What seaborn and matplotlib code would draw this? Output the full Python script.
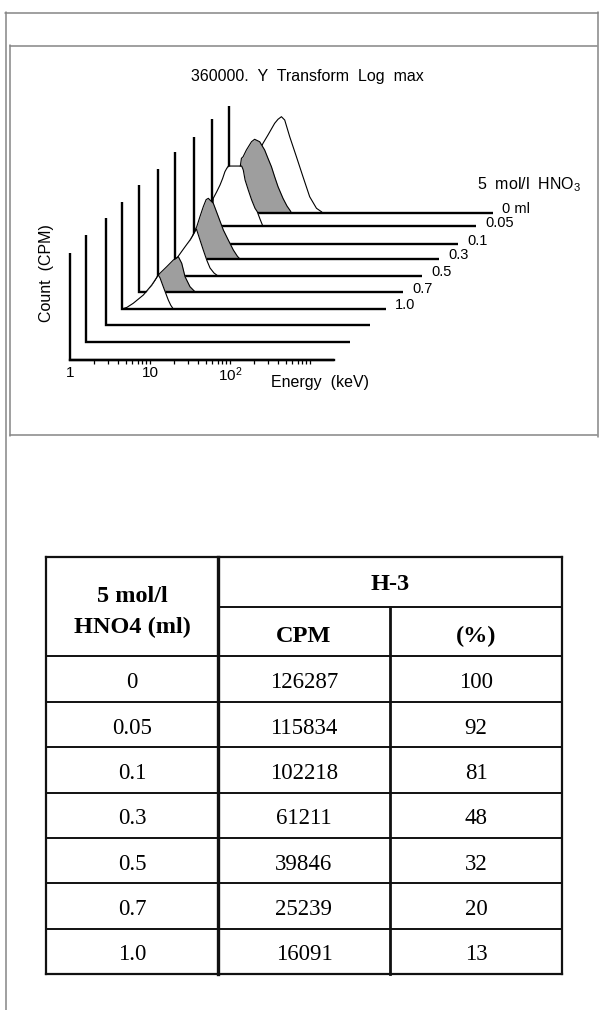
import numpy as np
import matplotlib
matplotlib.use("Agg")
import matplotlib.pyplot as plt
import seaborn as sns
from matplotlib.lines import Line2D
from matplotlib.ticker import FixedLocator, NullFormatter

# ---------------- data ----------------
# waterfall row labels (back -> front), amount of 5 mol/l HNO3
row_labels = ["0 ml", "0.05", "0.1", "0.3", "0.5", "0.7", "1.0"]
label_rows = [9, 8, 7, 6, 5, 4, 3]

# spectra: energy (keV) and relative count (fraction of the log max)
e_0ml = [1.00, 1.26, 1.58, 2.00, 2.66, 3.07, 3.72, 4.10, 4.52, 4.97, 5.74, 6.96, 8.41, 10.2, 12.4, 14.3, 14.8]
c_0ml = [0.00, 0.05, 0.20, 0.45, 0.651, 0.729, 0.838, 0.876, 0.900, 0.869, 0.713, 0.526, 0.339, 0.152, 0.044, 0.012, 0.0]

e_005 = [1.00, 1.07, 1.20, 1.38, 1.43, 1.50, 1.65, 1.91, 2.09, 2.42, 2.79, 3.07, 3.39, 3.72, 4.10, 4.73, 5.31, 5.86, 6.03]
c_005 = [0.00, 0.08, 0.25, 0.43, 0.511, 0.526, 0.589, 0.666, 0.689, 0.666, 0.589, 0.511, 0.433, 0.339, 0.246, 0.137, 0.065, 0.019, 0.0]

e_01 = [1.00, 1.012, 1.038, 1.146, 1.26, 1.36, 1.45, 1.53, 1.60, 2.35, 2.46, 2.59, 2.84, 3.13, 3.45, 3.68, 3.98, 4.34]
c_01 = [0.00, 0.13, 0.264, 0.325, 0.388, 0.45, 0.512, 0.544, 0.565, 0.565, 0.528, 0.435, 0.341, 0.248, 0.17, 0.138, 0.07, 0.0]

e_03 = [1.05, 1.15, 1.32, 1.58, 1.78, 1.87, 2.05, 2.26, 2.45, 2.61, 2.75, 3.01, 3.48, 4.02, 4.63, 5.36, 6.03, 6.49]
c_03 = [0.0, 0.01, 0.06, 0.17, 0.271, 0.302, 0.396, 0.49, 0.555, 0.567, 0.55, 0.521, 0.396, 0.271, 0.178, 0.084, 0.025, 0.0]

e_05 = [1.00, 1.26, 1.51, 1.80, 2.11, 2.51, 2.82, 3.02, 3.35, 3.68, 4.06, 4.47, 5.01, 5.62]
c_05 = [0.0, 0.03, 0.10, 0.187, 0.259, 0.336, 0.40, 0.44, 0.336, 0.243, 0.15, 0.075, 0.028, 0.0]

e_07 = [1.26, 1.32, 1.51, 1.74, 2.22, 2.69, 3.10, 3.42, 3.76, 4.34, 5.01, 5.13]
c_07 = [0.0, 0.015, 0.075, 0.164, 0.241, 0.304, 0.335, 0.273, 0.148, 0.054, 0.007, 0.0]

e_10 = [1.00, 1.15, 1.38, 1.85, 2.35, 2.69, 2.84, 2.99, 3.28, 3.79, 4.07, 4.38]
c_10 = [0.0, 0.015, 0.053, 0.131, 0.224, 0.29, 0.318, 0.29, 0.208, 0.084, 0.035, 0.0]

# table
table_hno3 = ["0", "0.05", "0.1", "0.3", "0.5", "0.7", "1.0"]
table_cpm = [126287, 115834, 102218, 61211, 39846, 25239, 16091]
table_pct = [100, 92, 81, 48, 32, 20, 13]

E_MAX = 2000.0

# ---------------- layout / style ----------------
W, H, DPI = 601, 1010, 100
GRAY = "#9e9e9e"
# (energies, counts, waterfall row, fill colour), drawn back to front
spectra = [
    (e_0ml, c_0ml, 9, "white"),
    (e_005, c_005, 9, GRAY),
    (e_01, c_01, 8, "white"),
    (e_03, c_03, 6, GRAY),
    (e_05, c_05, 5, "white"),
    (e_07, c_07, 4, GRAY),
    (e_10, c_10, 3, "white"),
]
corner_px = [70, 86, 106, 122, 139, 158, 175, 194, 212, 229]
base_px = [360, 342, 325, 309, 292.5, 276, 259, 244.5, 226.5, 213]
X0, Y0, DEC, HT = 70, 360, 80.0, 107.0
row_shift = [10 ** ((c - X0) / DEC) for c in corner_px]
row_dy = [(Y0 - b) / HT for b in base_px]

sns.set_theme(style="white")
plt.rcParams["font.family"] = ["Liberation Sans", "DejaVu Sans"]
plt.rcParams["mathtext.fontset"] = "custom"
plt.rcParams["mathtext.rm"] = "Liberation Sans"
plt.rcParams["text.color"] = "black"
plt.rcParams["xtick.color"] = "black"
plt.rcParams["xtick.labelcolor"] = "black"

fig = plt.figure(figsize=(W / DPI, H / DPI), dpi=DPI)
fig.patch.set_facecolor("white")


def P(x, y):
    return x / W, 1 - y / H


# frames
fcol = "#858585"
for xs, ys in [([5.5, 5.5], [12, 1010]), ([5, 598], [12.5, 12.5]), ([598, 598], [12, 437]),
               ([10, 597], [45.5, 45.5]), ([10.5, 10.5], [45, 436]), ([10, 597], [435.5, 435.5])]:
    fig.add_artist(Line2D([x / W for x in xs], [1 - y / H for y in ys], color=fcol, lw=1.1,
                          transform=fig.transFigure))

# ---------------- waterfall ----------------
al, ar, at, ab = 30, 590, 95, 415
ax = fig.add_axes([al / W, 1 - ab / H, (ar - al) / W, (ab - at) / H])
ax.set_facecolor("none")
ax.set_xscale("log")
ax.set_xlim(10 ** ((al - X0) / DEC), 10 ** ((ar - X0) / DEC))
ax.set_ylim((Y0 - ab) / HT, (Y0 - at) / HT)

for r in range(9, -1, -1):
    z = 10 + (9 - r) * 10
    s, yo = row_shift[r], row_dy[r]
    k = 0
    for e, c, row, fc in spectra:
        if row != r:
            continue
        ex = np.asarray(e) * s
        cy = yo + np.asarray(c)
        ax.fill_between(ex, yo, cy, color=fc, lw=0, zorder=z + 1 + 2 * k)
        sns.lineplot(x=ex, y=cy, ax=ax, color="black", linewidth=0.8, sort=False,
                     estimator=None, zorder=z + 2 + 2 * k)
        k += 1
    ax.plot([s, s, s * E_MAX], [yo + 1.0, yo, yo], color="black", lw=1.7,
            solid_joinstyle="miter", solid_capstyle="butt", zorder=z + 8)

for lab, r in zip(row_labels, label_rows):
    ax.text(row_shift[r] * E_MAX * 10 ** (9 / DEC), row_dy[r] + 3.5 / HT, lab,
            ha="left", va="center", fontsize=10.5, color="black", zorder=200)

ax.set_xlabel("")
ax.set_ylabel("")
for sp in ["top", "right", "left"]:
    ax.spines[sp].set_visible(False)
ax.spines["bottom"].set_position(("data", 0))
ax.spines["bottom"].set_bounds(1, E_MAX)
ax.spines["bottom"].set_linewidth(1.7)
ax.spines["bottom"].set_color("black")
ax.set_yticks([])
ax.xaxis.set_major_locator(FixedLocator([1, 10, 100, 1000]))
ax.set_xticklabels(["1", "10", r"$\mathregular{10^2}$", ""])
ax.xaxis.set_minor_locator(FixedLocator([k * 10 ** d for d in range(3) for k in range(2, 10)]))
ax.xaxis.set_minor_formatter(NullFormatter())
ax.tick_params(axis="x", which="both", direction="out", length=3.0, width=0.9,
               color="black", labelsize=11, pad=1, labelcolor="black", bottom=True)
ax.xaxis.get_major_ticks()[0].tick1line.set_visible(False)

fig.text(*P(307.5, 76), "360000.  Y  Transform  Log  max", ha="center", va="center",
         fontsize=11.5, color="black")
fig.text(*P(320, 382), "Energy  (keV)", ha="center", va="center", fontsize=11.5, color="black")
fig.text(*P(47, 273), "Count  (CPM)", ha="center", va="center", fontsize=11.5, rotation=90,
         color="black")
fig.text(*P(477, 185), r"5  mol/l  HNO$\mathregular{_3}$", ha="left", va="center",
         fontsize=11.5, color="black")

# ---------------- table ----------------
tl, tr, tt, tb = 46, 562, 556.7, 974
tab = fig.add_axes([tl / W, 1 - tb / H, (tr - tl) / W, (tb - tt) / H])
tab.axis("off")
HDR = 2.2
NR = len(table_hno3)
tab.set_xlim(0, 3)
tab.set_ylim(HDR + NR, 0)
lc = "#111111"
kw = dict(color=lc, clip_on=False, solid_capstyle="projecting")
tab.plot([0, 3], [0, 0], lw=1.6, **kw)
tab.plot([0, 3], [HDR + NR, HDR + NR], lw=1.6, **kw)
tab.plot([0, 0], [0, HDR + NR], lw=1.6, **kw)
tab.plot([3, 3], [0, HDR + NR], lw=1.6, **kw)
tab.plot([1, 1], [0, HDR + NR], lw=2.4, **kw)
tab.plot([2, 2], [HDR / 2, HDR + NR], lw=2.0, **kw)
tab.plot([1, 3], [HDR / 2, HDR / 2], lw=1.4, **kw)
for i in range(NR):
    tab.plot([0, 3], [HDR + i, HDR + i], lw=1.4, **kw)

serif = ["Liberation Serif", "DejaVu Serif"]
rowpx = (tb - tt) / (HDR + NR)
hk = dict(ha="center", va="center", fontsize=17.5, fontweight="bold", family=serif, color="black")
tab.text(0.5, (596.7 - tt) / rowpx, "5 mol/l", **hk)
tab.text(0.5, (627.3 - tt) / rowpx, "HNO4 (ml)", **hk)
tab.text(2.0, (585.0 - tt) / rowpx, "H-3", **hk)
tab.text(1.5, (636.7 - tt) / rowpx, "CPM", **hk)
tab.text(2.5, (636.7 - tt) / rowpx, "(%)", **hk)
dk = dict(ha="center", va="center", fontsize=16.5, family=serif, color="black")
for i, (a, b, c) in enumerate(zip(table_hno3, table_cpm, table_pct)):
    y = HDR + i + 0.5 + 0.08
    tab.text(0.5, y, a, **dk)
    tab.text(1.5, y, str(b), **dk)
    tab.text(2.5, y, str(c), **dk)

fig.savefig("out.png", dpi=DPI, facecolor="white")
